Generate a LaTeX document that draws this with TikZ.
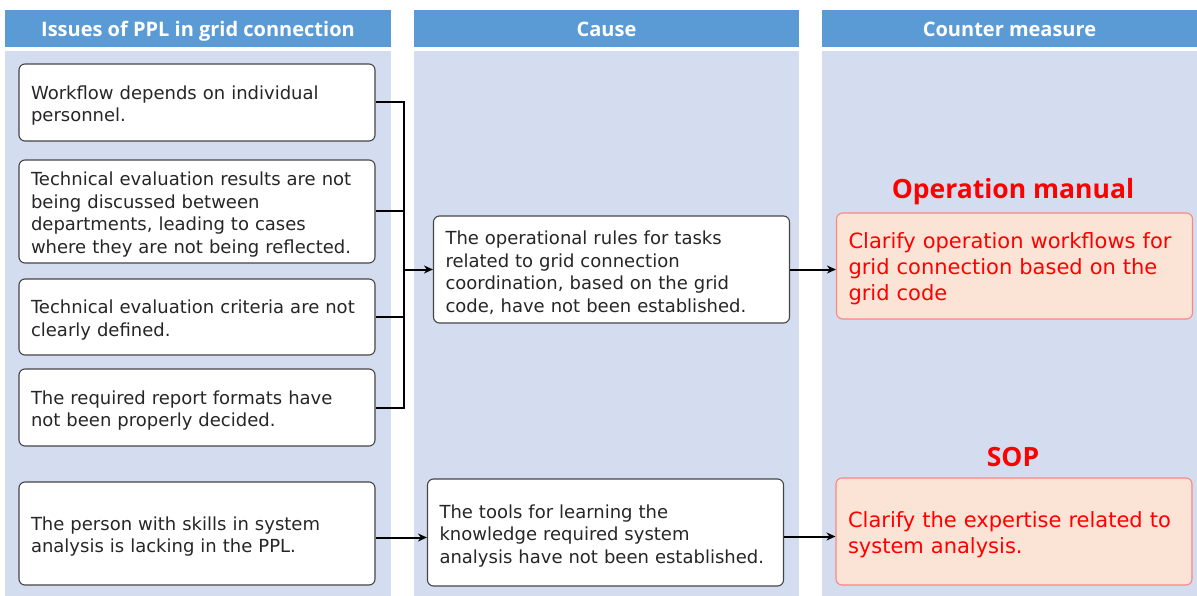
\documentclass[tikz,border=0pt]{standalone}
\usepackage{fontspec}
\setmainfont{DejaVu Sans}
\newfontfamily\headfont{Open Sans}
\usetikzlibrary{arrows.meta}

\definecolor{headblue}{HTML}{5B9BD5}
\definecolor{colbg}{HTML}{D3DDEF}
\definecolor{boxline}{HTML}{454545}
\definecolor{textgray}{HTML}{262626}
\definecolor{redfill}{HTML}{FBE4D5}
\definecolor{redline}{HTML}{FF8585}
\definecolor{redtext}{HTML}{FF0000}

\begin{document}
\begin{tikzpicture}[x=1pt, y=-1pt]
    \tikzstyle{head} = [fill = headblue, minimum height = 37pt, inner sep = 0pt, text height = 18pt, text depth = 2pt, text = white, font = \headfont\bfseries\fontsize{20}{24}\selectfont]
    \tikzstyle{issue} = [draw = boxline, line width = 1.1pt, fill = white, rounded corners = 6pt, minimum width = 356pt, text width = 332pt, inner xsep = 12pt, inner ysep = 0pt, align = left, text = textgray, font = \fontsize{18}{22.5}\selectfont, execute at begin node = \rule{0pt}{20pt}]
    \tikzstyle{measure} = [issue, draw = redline, fill = redfill, text = redtext, font = \fontsize{21}{26}\selectfont, execute at begin node = \rule{0pt}{22pt}]
    \tikzstyle{title} = [text = redtext, text depth = 0pt, font = \headfont\bfseries\fontsize{26.5}{30}\selectfont]
    \tikzstyle{link} = [line width = 2pt, black]
    \tikzstyle{arrow} = [link, -{Stealth[length = 9pt, width = 8pt]}]

    \useasboundingbox (0,0) rectangle (1197,596);

    % column backgrounds
    \fill[colbg] (5,51) rectangle (391,596);
    \fill[colbg] (414,51) rectangle (799,596);
    \fill[colbg] (822,51) rectangle (1197,596);

    % headers
    \node[head, minimum width = 386pt](head1) at (198,28.5){Issues of PPL in grid connection};
    \node[head, minimum width = 385pt](head2) at (606.5,28.5){Cause};
    \node[head, minimum width = 375pt](head3) at (1009.5,28.5){Counter measure};

    % issues
    \node[issue, minimum height = 77pt](b1) at (197,102.5){Workflow depends on individual\\personnel.};
    \node[issue, minimum height = 103pt](b2) at (197,211.5){Technical evaluation results are not\\being discussed between\\departments, leading to cases\\where they are not being reflected.};
    \node[issue, minimum height = 76pt](b3) at (197,317){Technical evaluation criteria are not\\clearly defined.};
    \node[issue, minimum height = 77pt](b4) at (197,407.5){The required report formats have\\not been properly decided.};
    \node[issue, minimum height = 103pt](b5) at (197,533.5){The person with skills in system\\analysis is lacking in the PPL.};

    % causes
    \node[issue, minimum width = 355pt, minimum height = 107pt](c1) at (611.5,269.5){The operational rules for tasks\\related to grid connection\\coordination, based on the grid\\code, have not been established.};
    \node[issue, minimum width = 355pt, minimum height = 107pt](c2) at (605.5,532.5){The tools for learning the\\knowledge required system\\analysis have not been established.};

    % counter measures
    \node[title](t1) at (1013,188){Operation manual};
    \node[measure, minimum width = 355pt, minimum height = 106pt](m1) at (1014.5,266){Clarify operation workflows for\\grid connection based on the\\grid code};
    \node[title](t2) at (1013,457){SOP};
    \node[measure, minimum height = 107pt](m2) at (1014,531.5){Clarify the expertise related to\\system analysis.};

    % connectors
    \coordinate (join) at (404,269.5);
    \draw[link](b1.east) -| (join);
    \draw[link](b4.east) -| (join);
    \draw[link](b2.east) -- (b2.east -| join);
    \draw[link](b3.east) -- (b3.east -| join);
    \draw[arrow](join) -- (c1.west);
    \draw[arrow](c1.east) -- (c1.east -| m1.west);
    \draw[arrow]([yshift = -4pt]b5.east) -- ([yshift = -4pt]b5.east -| c2.west);
    \draw[arrow]([yshift = -4pt]c2.east) -- ([yshift = -4pt]c2.east -| m2.west);

\end{tikzpicture}
\end{document}
